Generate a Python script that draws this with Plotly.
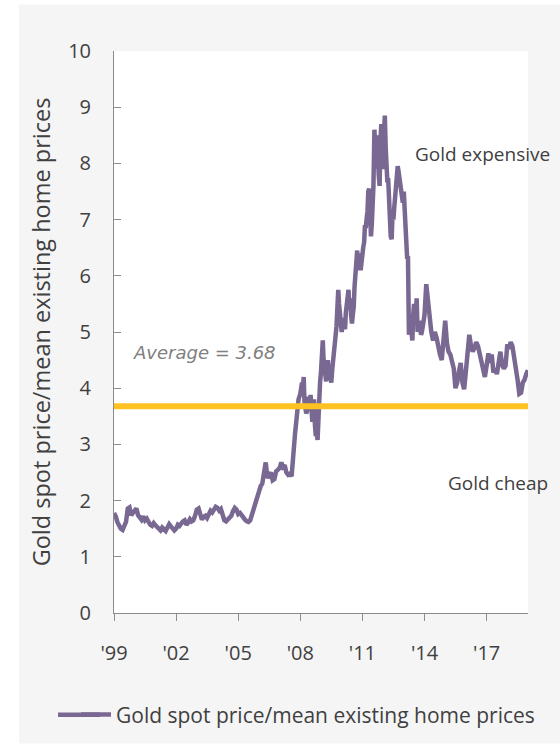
import pandas as pd
import plotly.graph_objects as go

# ---- data: start-of-month values ----
y1999 = [1.78, 1.72, 1.62, 1.55, 1.50, 1.48, 1.55, 1.62, 1.86, 1.88, 1.74, 1.78]
y2000 = [1.84, 1.86, 1.74, 1.70, 1.66, 1.72, 1.65, 1.68, 1.62, 1.57, 1.55, 1.60]
y2001 = [1.56, 1.53, 1.50, 1.47, 1.52, 1.49, 1.46, 1.52, 1.58, 1.54, 1.49, 1.47]
y2002 = [1.50, 1.57, 1.55, 1.60, 1.63, 1.65, 1.57, 1.61, 1.67, 1.63, 1.65, 1.73]
y2003 = [1.84, 1.86, 1.72, 1.66, 1.71, 1.73, 1.69, 1.76, 1.82, 1.79, 1.85, 1.89]
y2004 = [1.87, 1.82, 1.85, 1.72, 1.65, 1.63, 1.66, 1.69, 1.73, 1.81, 1.87, 1.84]
y2005 = [1.76, 1.78, 1.73, 1.70, 1.66, 1.63, 1.62, 1.65, 1.76, 1.84, 1.92, 2.03]
y2006 = [2.18, 2.26, 2.30, 2.50, 2.68, 2.40, 2.46, 2.50, 2.36, 2.38, 2.52, 2.56]
y2007 = [2.58, 2.68, 2.60, 2.63, 2.50, 2.46, 2.48, 2.43, 2.90, 3.20, 3.50, 3.80]
y2008 = [3.90, 4.10, 4.20, 3.65, 3.60, 3.75, 3.88, 3.40, 3.80, 3.15, 3.08, 3.80]
y2009 = [4.30, 4.85, 4.40, 4.12, 4.50, 4.40, 4.10, 4.45, 4.80, 5.10, 5.75, 5.30]
y2010 = [5.00, 5.25, 5.05, 5.50, 5.75, 5.60, 5.15, 5.45, 6.00, 6.45, 6.20, 6.10]
y2011 = [6.35, 6.60, 6.85, 7.15, 7.55, 6.70, 7.30, 8.60, 7.90, 8.30, 7.60, 8.70]
y2012 = [7.90, 8.85, 7.90, 7.70, 6.80, 6.65, 7.00, 7.40, 7.90, 7.85, 7.65, 7.40]
y2013 = [7.50, 6.90, 6.30, 4.95, 5.20, 4.85, 5.50, 5.30, 5.00, 5.20, 4.95, 5.10]
y2014 = [5.30, 5.85, 5.55, 5.20, 5.00, 4.85, 5.00, 4.90, 4.70, 4.60, 4.50, 4.80]
y2015 = [5.20, 4.80, 4.65, 4.60, 4.50, 4.35, 4.00, 4.10, 4.30, 4.45, 4.10, 3.98]
y2016 = [4.30, 4.80, 4.95, 4.75, 4.65, 4.72, 4.82, 4.75, 4.60, 4.50, 4.30, 4.20]
y2017 = [4.40, 4.62, 4.45, 4.60, 4.28, 4.35, 4.25, 4.50, 4.65, 4.42, 4.35, 4.40]
y2018 = [4.78, 4.70, 4.82, 4.75, 4.50, 4.35, 4.15, 3.90, 3.92, 4.10, 4.15, 4.25]
y2019 = [4.32]

# mid-month values for the volatile 2008-2013 stretch
mid2008 = [4.05, 3.95, 3.75, 3.55, 3.85, 3.65, 3.60, 3.55, 3.35, 3.20, 3.55, 4.10]
mid2009 = [4.60, 4.50, 4.25, 4.35, 4.30, 4.20, 4.30, 4.60, 4.90, 5.40, 5.50, 5.10]
mid2010 = [5.15, 5.10, 5.35, 5.65, 5.40, 5.30, 5.30, 5.80, 6.20, 6.10, 6.40, 6.30]
mid2011 = [6.50, 6.90, 7.00, 7.50, 7.20, 6.90, 7.60, 8.20, 8.50, 7.80, 8.40, 8.00]
mid2012 = [8.50, 8.30, 7.70, 7.40, 6.70, 7.10, 7.20, 7.60, 7.95, 7.70, 7.50, 7.30]
mid2013 = [7.20, 6.60, 6.35, 5.20, 5.00, 5.30, 5.40, 5.60, 5.15, 5.05, 5.00, 5.20]

start_of_month = (y1999 + y2000 + y2001 + y2002 + y2003 + y2004 + y2005 + y2006
                  + y2007 + y2008 + y2009 + y2010 + y2011 + y2012 + y2013 + y2014
                  + y2015 + y2016 + y2017 + y2018 + y2019)
mid_month = mid2008 + mid2009 + mid2010 + mid2011 + mid2012 + mid2013

som_dates = pd.date_range("1999-01-01", periods=len(start_of_month), freq="MS")
mid_dates = pd.date_range("2008-01-01", periods=len(mid_month), freq="MS") + pd.Timedelta(days=14)

series = pd.concat([
    pd.Series(start_of_month, index=som_dates),
    pd.Series(mid_month, index=mid_dates),
]).sort_index()

average_value = 3.68
average_x = ["1999-01-01", "2019-01-01"]

tick_years = ["1999-01-01", "2002-01-01", "2005-01-01", "2008-01-01",
              "2011-01-01", "2014-01-01", "2017-01-01"]
tick_labels = ["'99", "'02", "'05", "'08", "'11", "'14", "'17"]

series_name = "Gold spot price/mean existing home prices"

PURPLE = "#786892"
YELLOW = "#FFC220"
TEXT = "#404040"
AXIS = "#8c8c8c"
FONT = "Open Sans"

fig = go.Figure()
fig.add_trace(go.Scatter(
    x=series.index, y=series.values, mode="lines", name=series_name,
    line=dict(color=PURPLE, width=4.5),
))
fig.add_trace(go.Scatter(
    x=average_x, y=[average_value, average_value], mode="lines",
    showlegend=False, line=dict(color=YELLOW, width=6), hoverinfo="skip",
))

# plot area in px: x 114..528, y 51..620
L, R, T, B = 114, 32, 51, 127
W, H = 560, 747
pw, ph = W - L - R, H - T - B


def px_x(px):
    return (px - L) / pw


def px_y(py):
    return (H - B - py) / ph


fig.update_layout(
    width=W, height=H,
    margin=dict(l=L, r=R, t=T, b=B),
    paper_bgcolor="white",
    plot_bgcolor="white",
    font=dict(family=FONT, color=TEXT, size=20),
    showlegend=True,
    legend=dict(
        orientation="h", x=px_x(76), xanchor="left",
        y=px_y(723), yanchor="middle",
        font=dict(size=21, color=TEXT), bgcolor="rgba(0,0,0,0)",
    ),
    shapes=[
        dict(type="rect", xref="paper", yref="paper", layer="below",
             x0=px_x(19), x1=px_x(W + 5), y0=px_y(H + 5), y1=px_y(4),
             fillcolor="#f5f5f5", line=dict(width=0)),
        dict(type="rect", xref="paper", yref="paper", layer="below",
             x0=0, x1=1, y0=0, y1=1,
             fillcolor="white", line=dict(width=0)),
        # lengthen the legend's line sample to match the reference
        dict(type="line", xref="paper", yref="paper",
             x0=px_x(58), x1=px_x(100), y0=px_y(723), y1=px_y(723),
             line=dict(color=PURPLE, width=4.5)),
    ],
    annotations=[
        dict(text="Gold expensive", xref="paper", yref="paper",
             x=px_x(413), y=px_y(155), xanchor="left", yanchor="middle",
             showarrow=False, font=dict(size=19, color=TEXT, family=FONT)),
        dict(text="Gold cheap", xref="paper", yref="paper",
             x=px_x(446), y=px_y(488), xanchor="left", yanchor="middle",
             showarrow=False, font=dict(size=19, color=TEXT, family=FONT)),
        dict(text="<i>Average = 3.68</i>", xref="paper", yref="paper",
             x=px_x(131), y=px_y(356), xanchor="left", yanchor="middle",
             showarrow=False, font=dict(size=18, color="#808080", family="DejaVu Sans")),
    ],
)

fig.update_xaxes(
    type="date", range=["1999-01-01", "2019-01-01"],
    tickvals=tick_years, ticktext=tick_labels,
    showgrid=False, zeroline=False,
    showline=True, linecolor=AXIS, linewidth=1,
    ticks="outside", ticklen=7, tickcolor=AXIS, tickwidth=1,
    tickfont=dict(size=20, color=TEXT), ticklabelstandoff=15,
)
fig.update_yaxes(
    range=[0, 10], tickvals=list(range(0, 11)),
    showgrid=False, zeroline=False,
    showline=True, linecolor=AXIS, linewidth=1,
    ticks="inside", ticklen=7, tickcolor=AXIS, tickwidth=1,
    tickfont=dict(size=20, color=TEXT), ticklabelstandoff=18,
    title=dict(text=series_name, font=dict(size=23.5, color=TEXT), standoff=10),
)

fig.write_html("out.html", config={"displayModeBar": False},
               post_script="document.body.style.margin='0';")
